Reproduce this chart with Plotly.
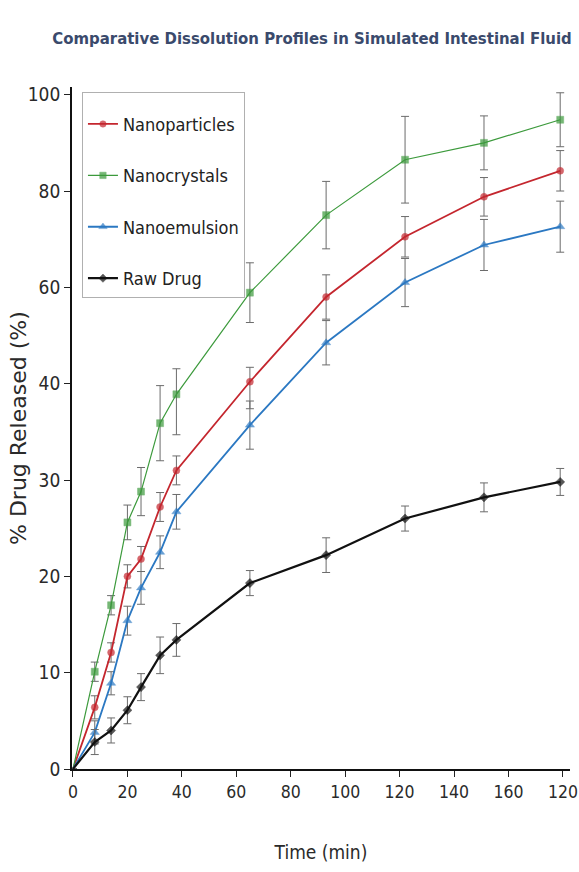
import numpy as np
import plotly.graph_objects as go

# ---- data ----
time_min = [0, 8, 14, 20, 25, 32, 38, 65, 93, 122, 151, 179]

nanoparticles = [0, 6.4, 12.1, 20.0, 21.8, 27.2, 31.0, 40.4, 58.0, 70.5, 78.8, 84.2]
nanoparticles_sd = [0, 1.2, 1.0, 1.2, 1.3, 1.5, 1.5, 3.0, 4.6, 4.2, 4.0, 4.2]

nanocrystals = [0, 10.1, 17.0, 25.6, 28.8, 35.9, 38.9, 58.9, 75.0, 86.5, 90.0, 94.8]
nanocrystals_sd = [0, 1.0, 1.0, 1.8, 2.5, 3.9, 4.2, 6.2, 7.0, 9.0, 5.6, 5.6]

nanoemulsion = [0, 3.8, 8.9, 15.4, 18.8, 22.5, 26.7, 35.7, 48.5, 61.0, 68.8, 72.6]
nanoemulsion_sd = [0, 1.2, 1.2, 1.5, 1.7, 1.7, 1.8, 2.5, 4.6, 5.0, 5.3, 5.3]

raw_drug = [0, 2.8, 4.0, 6.1, 8.5, 11.8, 13.4, 19.3, 22.2, 26.0, 28.2, 29.8]
raw_drug_sd = [0, 1.3, 1.3, 1.4, 1.4, 1.9, 1.7, 1.3, 1.8, 1.3, 1.5, 1.4]

y_tick_labels = ["0", "10", "20", "30", "40", "60", "80", "100"]
y_tick_values = [0, 10, 20, 30, 40, 60, 80, 100]
x_tick_values = [0, 20, 40, 60, 80, 100, 120, 140, 160, 180]
x_tick_labels = ["0", "20", "40", "60", "80", "100", "120", "140", "160", "120"]


# The reference's y axis is broken: 0-40 in steps of 10, then 40-100 in steps of 20,
# all ticks equally spaced. Map percent values onto that axis.
def to_axis(v):
    v = np.asarray(v, dtype=float)
    return np.where(v <= 40, v / 10.0, 4.0 + (v - 40.0) / 20.0)


series = [
    ("Nanoparticles", nanoparticles, nanoparticles_sd, "#c4262e", "circle", 1.8, 7),
    ("Nanocrystals", nanocrystals, nanocrystals_sd, "#3c9a3c", "square", 1.2, 7),
    ("Nanoemulsion", nanoemulsion, nanoemulsion_sd, "#2b78c2", "triangle-up", 1.8, 8),
    ("Raw Drug", raw_drug, raw_drug_sd, "#111111", "diamond", 2.2, 7),
]

COND = "DejaVu Sans Condensed, DejaVu Sans, sans-serif"

fig = go.Figure()
for i, (name, vals, sd, color, sym, lw, ms) in enumerate(series):
    v = np.array(vals, dtype=float)
    s = np.array(sd, dtype=float)
    ya = to_axis(v)
    up = to_axis(v + s) - ya
    dn = ya - to_axis(np.maximum(v - s, 0))
    sizes = [0] + [ms] * (len(v) - 1)
    fig.add_trace(go.Scatter(
        x=time_min, y=ya, name=name, mode="lines+markers",
        legendgroup=name,
        line=dict(color=color, width=lw),
        marker=dict(symbol=sym, size=sizes, color=color, line=dict(color=color, width=0.5)),
        error_y=dict(type="data", symmetric=False, array=up, arrayminus=dn,
                     color="#6b6b6b", thickness=1, width=4),
    ))

fig.update_layout(
    width=579, height=872,
    paper_bgcolor="white", plot_bgcolor="white",
    margin=dict(l=72, r=9, t=87, b=103, autoexpand=False),
    title=dict(
        text="<b>Comparative Dissolution Profiles in Simulated Intestinal Fluid</b>",
        x=312 / 579, xanchor="center", y=1 - 38 / 872, yanchor="middle", xref="container", yref="container",
        font=dict(family=COND, size=16.6, color="#3a4a6c"),
    ),
    showlegend=True,
    legend=dict(
        x=0.02, y=0.993, xanchor="left", yanchor="top",
        bgcolor="white", bordercolor="#b0b0b0", borderwidth=1,
        font=dict(family=COND, size=18, color="#222"),
        title=dict(text=" ", font=dict(size=10)),
        tracegroupgap=25,
        itemwidth=30,
    ),
    xaxis=dict(
        range=[-0.36, 182.6], automargin=False,
        tickmode="array", tickvals=x_tick_values, ticktext=x_tick_labels,
        ticks="outside", ticklen=6, tickwidth=1.2, tickcolor="#222",
        ticklabeloverflow="allow",
        showline=True, linecolor="#111", linewidth=1.8,
        showgrid=False, zeroline=False,
        tickfont=dict(family=COND, size=17.5, color="#2a2a2a"),
        title=dict(text="Time (min)", standoff=45,
                   font=dict(family=COND, size=19, color="#2a2a2a")),
    ),
    yaxis=dict(
        range=[0, 7.08], automargin=False,
        tickmode="array", tickvals=to_axis(y_tick_values).tolist(), ticktext=y_tick_labels,
        ticks="outside", ticklen=6, tickwidth=1.2, tickcolor="#222",
        ticklabeloverflow="allow",
        showline=True, linecolor="#111", linewidth=1.8,
        showgrid=False, zeroline=False,
        tickfont=dict(family=COND, size=19, color="#2a2a2a"),
    ),
    annotations=[dict(
        text="% Drug Released (%)", textangle=-90,
        xref="paper", yref="paper", x=(18 - 72) / 498, y=0.5,
        xanchor="center", yanchor="middle", showarrow=False,
        font=dict(family="DejaVu Sans, sans-serif", size=22, color="#2a2a2a"),
    )],
)

fig.write_html("out.html", config={"displayModeBar": False},
               post_script="document.body.style.margin='0px';")
